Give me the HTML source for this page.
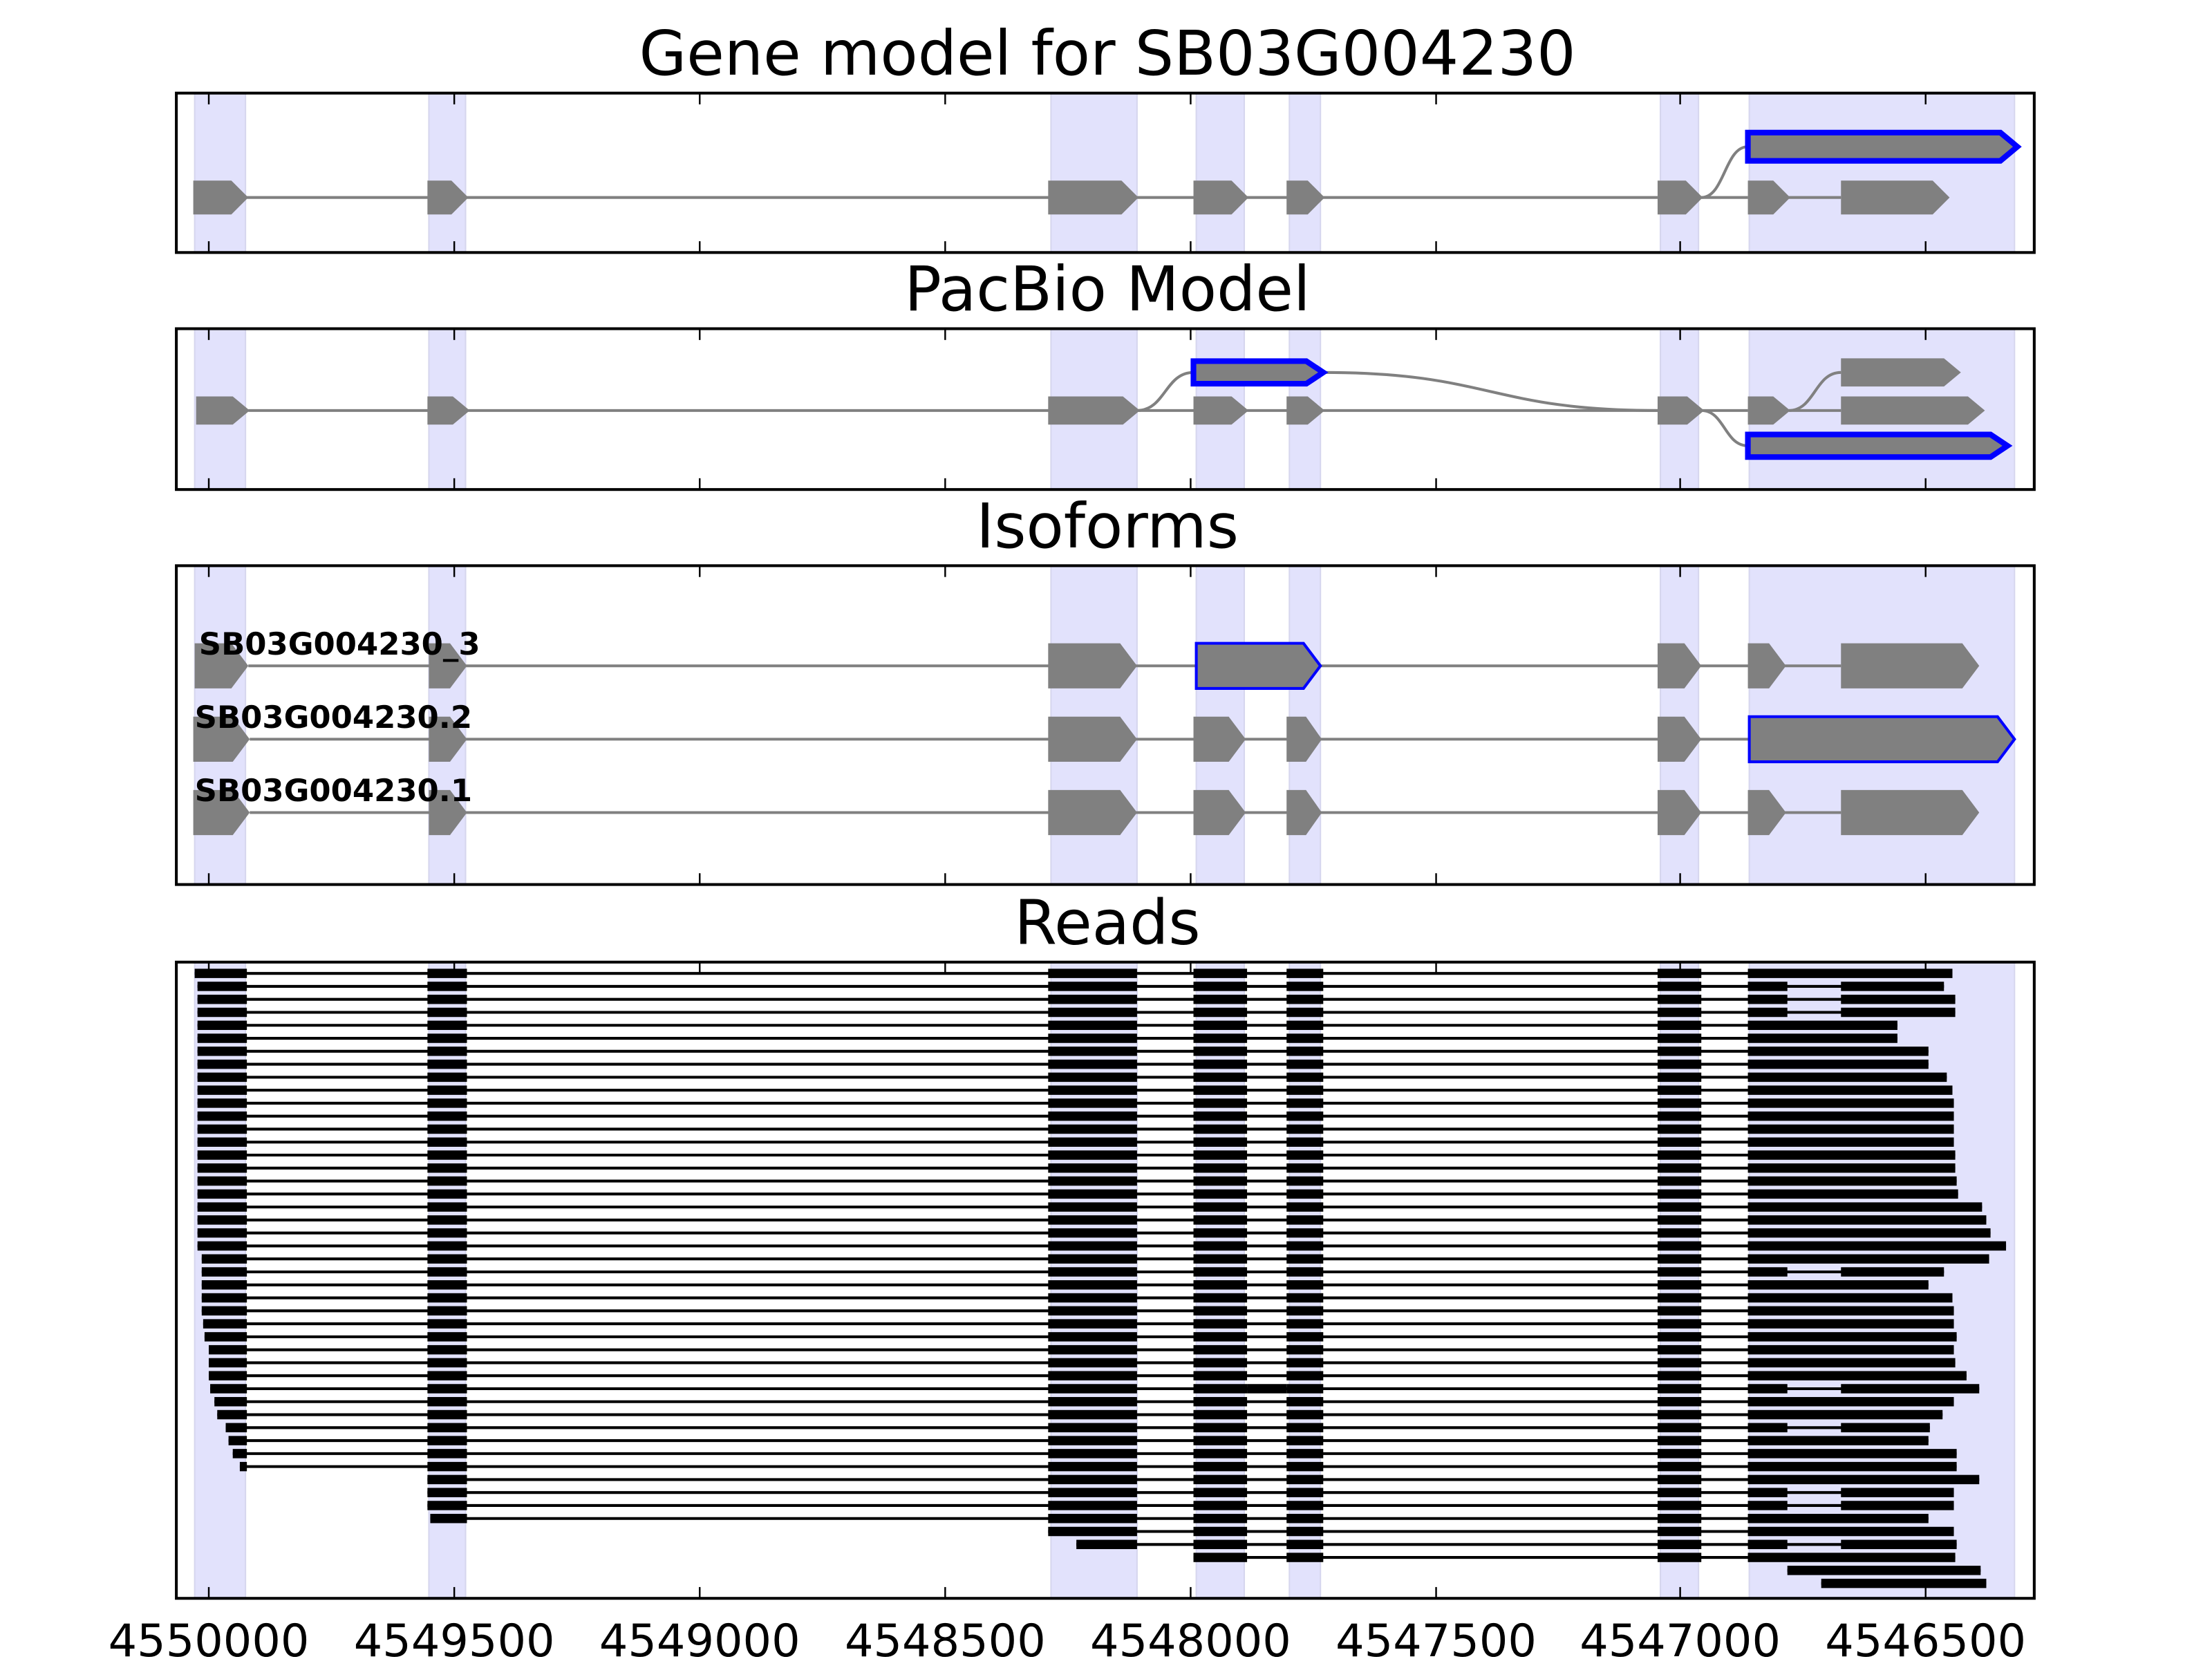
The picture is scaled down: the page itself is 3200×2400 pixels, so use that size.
<!DOCTYPE html>
<html><head><meta charset="utf-8"><style>
html,body{margin:0;padding:0;background:#fff}
svg{display:block}
text{font-family:"DejaVu Sans","Liberation Sans",sans-serif}
</style></head><body>
<svg id="s" width="3200" height="2400" viewBox="0 0 1568 1176" preserveAspectRatio="none" xmlns="http://www.w3.org/2000/svg">
<rect width="1568" height="1176" fill="#fff"/>
<g id="bands"></g>
<g id="content"></g>
<g font-size="43.5" text-anchor="middle" fill="#000">
<text x="785" y="53">Gene model for SB03G004230</text>
<text x="785" y="220">PacBio Model</text>
<text x="785" y="388">Isoforms</text>
<text x="785" y="669">Reads</text>
</g>
<g font-size="32" text-anchor="middle" fill="#000">
<text x="148" y="1174">4550000</text>
<text x="322" y="1174">4549500</text>
<text x="496" y="1174">4549000</text>
<text x="670" y="1174">4548500</text>
<text x="844" y="1174">4548000</text>
<text x="1018" y="1174">4547500</text>
<text x="1191" y="1174">4547000</text>
<text x="1365" y="1174">4546500</text>
</g>
<g font-size="22" font-weight="bold" fill="#000">
<text x="141" y="464">SB03G004230_3</text>
<text x="138" y="516">SB03G004230.2</text>
<text x="138" y="568">SB03G004230.1</text>
</g>
<g id="axes" fill="none" stroke="#000" stroke-width="2"></g>
</svg>
<script>
const NS="http://www.w3.org/2000/svg";
function el(parent,tag,attrs){const e=document.createElementNS(NS,tag);for(const k in attrs)e.setAttribute(k,attrs[k]);document.getElementById(parent).appendChild(e);return e;}
const panels=[[66,179],[233,347],[401,627],[682,1133]];
const bands=[[138,174],[304,330],[745,806],[848,882],[914,936],[1177,1204],[1240,1428]];
for(const [y0,y1] of panels){
  for(const [a,b] of bands) el("bands","rect",{x:a,y:y0,width:b-a,height:y1-y0,fill:"#e2e2fc",stroke:"#d6d6ee","stroke-width":1});
  el("axes","rect",{x:125,y:y0,width:1317,height:y1-y0});
  for(const t of [148,322,496,670,844,1018,1191,1365]){
    el("axes","line",{x1:t,y1:y1,x2:t,y2:y1-8,"stroke-width":1.2});
    el("axes","line",{x1:t,y1:y0,x2:t,y2:y0+8,"stroke-width":1.2});
  }
}
function arrow(x1,x2,y,h,blue){
  const tip=Math.min(12,(x2-x1)*0.45);
  const p=`${x1},${y-h/2} ${x2-tip},${y-h/2} ${x2},${y} ${x2-tip},${y+h/2} ${x1},${y+h/2}`;
  el("content","polygon",{points:p,fill:"#808080",stroke:blue?"#0000ff":"none","stroke-width":blue?(h>25?2:4):0});
}
function line(x1,y1,x2,y2){el("content","line",{x1,y1,x2,y2,stroke:"#808080","stroke-width":2});}
function curve(x1,y1,x2,y2){const m=(x1+x2)/2;el("content","path",{d:`M${x1},${y1} C${m},${y1} ${m},${y2} ${x2},${y2}`,fill:"none",stroke:"#808080","stroke-width":2});}
line(175,140,1175,140);line(1206,140,1239,140);line(1268,140,1305,140);
curve(1206,140,1239,104);
[[137,176],[303,332],[743,807],[846,885],[912,939],[1175,1207],[1239,1269],[1305,1382]].forEach(e=>arrow(e[0],e[1],140,24));
arrow(1239,1430,104,20,true);
line(176,291,1175,291);line(1206,291,1239,291);line(1268,291,1305,291);
curve(806,291,846,264);curve(938,264,1175,291);curve(1268,291,1305,264);curve(1206,291,1239,316);
[[139,177],[303,333],[743,808],[846,885],[912,939],[1175,1208],[1239,1269],[1305,1407]].forEach(e=>arrow(e[0],e[1],291,20));
arrow(846,938,264,16,true);
arrow(1305,1390,264,20);
arrow(1239,1423,316,16,true);
const iso=[
 [472,[[138,176],[304,331],[743,806],[848,936,1],[1175,1206],[1239,1266],[1305,1403]]],
 [524,[[137,177],[304,331],[743,806],[846,883],[912,937],[1175,1206],[1240,1428,1]]],
 [576,[[137,177],[304,331],[743,806],[846,883],[912,937],[1175,1206],[1239,1266],[1305,1403]]]];
for(const [y,ex] of iso){line(ex[0][1],y,ex[ex.length-1][0],y);for(const e of ex)arrow(e[0],e[1],y,32,e[2]);}
const lefts=[137];for(let i=1;i<=21;i++)lefts.push(140);
[143,143,143,143,143,144,145,148,148,148,149,152,154,160,162,165,170].forEach(v=>lefts.push(v));
lefts.push(303,303,303,305,743,763,846,1267,1291);
const rights=[1384,1378,1386,1386,1345,1345,1367,1367,1380,1384,1385,1385,1385,1385,1386,1386,1387,1388,1405,1408,1411,1422,1410,1378,1367,1384,1385,1385,1387,1385,1386,1394,1403,1385,1377,1368,1367,1387,1387,1403,1385,1385,1367,1385,1387,1386,1404,1408];
const split=new Set([1,2,3,23,32,35,40,41,44]);
const exR=[[138,175],[303,331],[743,806],[846,884],[912,938],[1175,1206]];
const n=lefts.length;
for(let i=0;i<n;i++){
  const y=690+i*9.2;const L=lefts[i],R=rights[i];
  const blocks=[];
  for(const [a,b] of exR){if(b<=L)continue;blocks.push([Math.max(a,L),b]);}
  if(split.has(i)){blocks.push([Math.max(1239,L),1267]);blocks.push([1305,R]);}
  else blocks.push([Math.max(1239,L),R]);
  if(i===32){blocks.push([884,912]);}
  const s=blocks[0][0],e=R;
  el("content","line",{x1:s,y1:y,x2:e,y2:y,stroke:"#000","stroke-width":2});
  for(const [a,b] of blocks) if(b>a) el("content","rect",{x:a,y:y-3.3,width:b-a,height:6.6,fill:"#000"});
}
</script>
</body></html>
